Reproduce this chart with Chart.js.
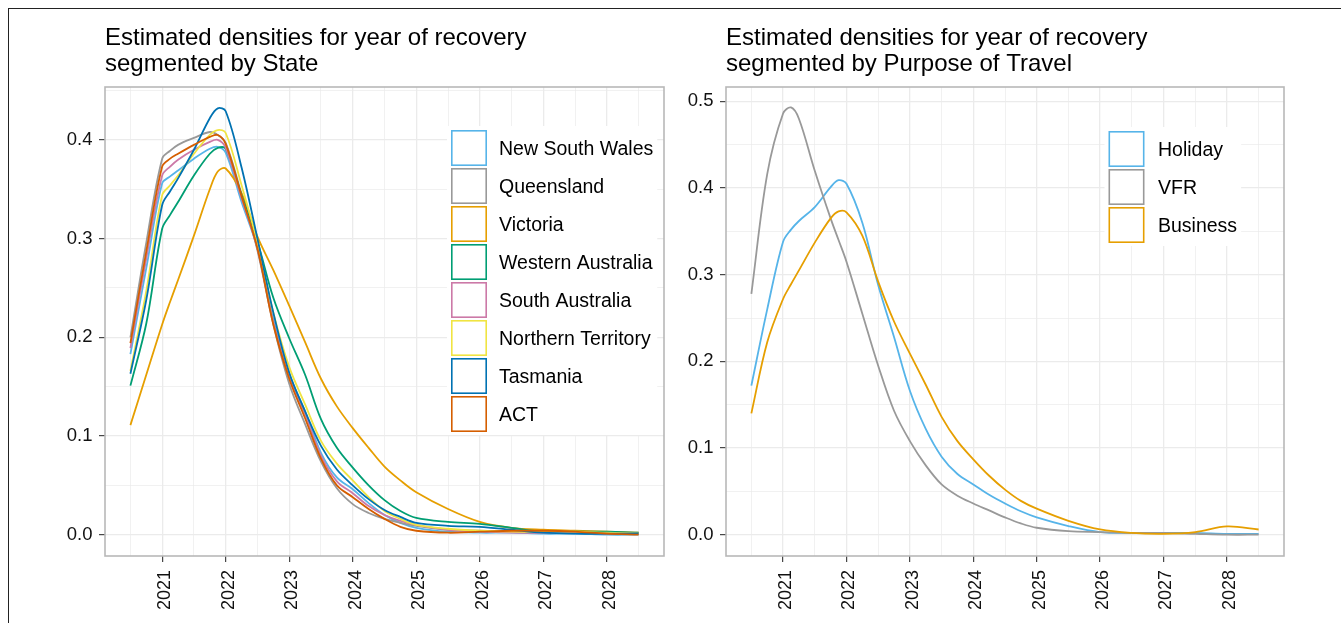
<!DOCTYPE html>
<html>
<head>
<meta charset="utf-8">
<script src="https://cdn.jsdelivr.net/npm/chart.js@4.4.1/dist/chart.umd.min.js"></script>
<style>
  html, body { margin: 0; padding: 0; background: #fff; }
  body { width: 1341px; height: 623px; position: relative; overflow: hidden; }
  .outer { position: absolute; left: 8px; top: 8px; width: 1400px; height: 700px; border: 1px solid #222; }
  canvas { position: absolute; top: 0; }
  #stateChart { left: 0; }
  #purposeChart { left: 670px; }
</style>
</head>
<body>
<div class="outer"></div>
<canvas id="stateChart" width="670" height="623"></canvas>
<canvas id="purposeChart" width="671" height="623"></canvas>
<script>
//-----------Data-----------
const years = [2020.5, 2020.75, 2021, 2021.125, 2021.25, 2021.5, 2021.75, 2021.875, 2022, 2022.25, 2022.5, 2022.75,
  2023, 2023.25, 2023.5, 2023.75, 2024, 2024.25, 2024.5, 2024.75, 2025, 2025.5,
  2026, 2026.5, 2027, 2027.5, 2028, 2028.5];

const yearTicks = [2021, 2022, 2023, 2024, 2025, 2026, 2027, 2028];
const xGrid = [2020.5, 2021, 2021.5, 2022, 2022.5, 2023, 2023.5, 2024, 2024.5, 2025, 2025.5,
  2026, 2026.5, 2027, 2027.5, 2028, 2028.5];
const yGridState = [0, 0.05, 0.1, 0.15, 0.2, 0.25, 0.3, 0.35, 0.4, 0.45];
const yGridPurpose = [0, 0.05, 0.1, 0.15, 0.2, 0.25, 0.3, 0.35, 0.4, 0.45, 0.5];

const stateNames = ['New South Wales', 'Queensland', 'Victoria', 'Western Australia',
  'South Australia', 'Northern Territory', 'Tasmania', 'ACT'];

const newSouthWales = [0.183, 0.270, 0.356, 0.363, 0.369, 0.381, 0.391, 0.393, 0.387, 0.337, 0.290, 0.218,
  0.163, 0.125, 0.083, 0.058, 0.046, 0.032, 0.020, 0.012, 0.007, 0.003,
  0.002, 0.002, 0.001, 0.001, 0.000, 0.000];
const queensland = [0.200, 0.296, 0.381, 0.389, 0.395, 0.402, 0.408, 0.405, 0.397, 0.345, 0.288, 0.213,
  0.153, 0.112, 0.074, 0.047, 0.031, 0.022, 0.016, 0.012, 0.009, 0.005,
  0.004, 0.003, 0.002, 0.002, 0.001, 0.001];
const victoria = [0.111, 0.162, 0.213, 0.236, 0.258, 0.303, 0.350, 0.368, 0.371, 0.346, 0.302, 0.268,
  0.232, 0.195, 0.158, 0.130, 0.108, 0.088, 0.069, 0.055, 0.043, 0.026,
  0.013, 0.007, 0.005, 0.004, 0.003, 0.002];
const westernAustralia = [0.151, 0.214, 0.310, 0.324, 0.337, 0.364, 0.386, 0.392, 0.391, 0.344, 0.297, 0.240,
  0.199, 0.162, 0.117, 0.088, 0.068, 0.050, 0.035, 0.024, 0.017, 0.013,
  0.011, 0.007, 0.003, 0.003, 0.003, 0.002];
const southAustralia = [0.189, 0.280, 0.364, 0.373, 0.380, 0.390, 0.398, 0.400, 0.392, 0.341, 0.290, 0.215,
  0.160, 0.122, 0.080, 0.054, 0.042, 0.029, 0.020, 0.014, 0.010, 0.005,
  0.003, 0.002, 0.002, 0.002, 0.001, 0.001];
const northernTerritory = [0.166, 0.247, 0.344, 0.354, 0.364, 0.386, 0.405, 0.410, 0.407, 0.354, 0.296, 0.225,
  0.170, 0.132, 0.095, 0.072, 0.055, 0.038, 0.024, 0.016, 0.010, 0.006,
  0.004, 0.003, 0.003, 0.003, 0.002, 0.001];
const tasmania = [0.163, 0.238, 0.334, 0.348, 0.361, 0.390, 0.422, 0.432, 0.429, 0.372, 0.300, 0.225,
  0.164, 0.125, 0.090, 0.066, 0.050, 0.036, 0.025, 0.018, 0.012, 0.009,
  0.008, 0.005, 0.002, 0.001, 0.001, 0.001];
const act = [0.194, 0.287, 0.373, 0.381, 0.386, 0.395, 0.403, 0.405, 0.396, 0.343, 0.290, 0.213,
  0.158, 0.118, 0.077, 0.050, 0.038, 0.026, 0.016, 0.008, 0.004, 0.002,
  0.003, 0.004, 0.004, 0.003, 0.001, 0.000];

const purposeNames = ['Holiday', 'VFR', 'Business'];

const holiday = [0.172, 0.260, 0.338, 0.352, 0.362, 0.378, 0.401, 0.409, 0.405, 0.360, 0.288, 0.228,
  0.166, 0.122, 0.090, 0.070, 0.058, 0.046, 0.036, 0.027, 0.020, 0.010,
  0.003, 0.002, 0.002, 0.002, 0.001, 0.001];
const vfr = [0.278, 0.416, 0.486, 0.493, 0.480, 0.420, 0.365, 0.340, 0.315, 0.255, 0.195, 0.143,
  0.108, 0.080, 0.058, 0.045, 0.036, 0.028, 0.020, 0.013, 0.008, 0.004,
  0.003, 0.002, 0.002, 0.001, 0.000, 0.000];
const business = [0.140, 0.222, 0.272, 0.289, 0.305, 0.337, 0.365, 0.373, 0.372, 0.345, 0.292, 0.246,
  0.209, 0.173, 0.136, 0.108, 0.087, 0.068, 0.052, 0.039, 0.030, 0.016,
  0.006, 0.002, 0.001, 0.003, 0.0095, 0.006];

//-----------Styling-----------
const FONT = "'Liberation Sans', Arial, Helvetica, sans-serif";
const stateColors = ['#56B4E9', '#999999', '#E69F00', '#009E73', '#CC79A7', '#F0E442', '#0072B2', '#D55E00'];
const purposeColors = ['#56B4E9', '#999999', '#E69F00'];

// frame, legend and title, drawn the way ggplot does them
const panelDecor = {
  id: 'panelDecor',
  afterDatasetsDraw(chart, args, opts) {
    const { ctx, chartArea: a } = chart;
    ctx.save();

    // legend (white background, outlined keys)
    ctx.font = `19.5px ${FONT}`;
    const textW = Math.max(...opts.names.map(n => ctx.measureText(n).width));
    const rows = opts.names.length;
    ctx.fillStyle = '#fff';
    ctx.fillRect(opts.legendX - 4, opts.legendY - 4, opts.textX - opts.legendX + textW + 8, rows * 38 + 5);
    opts.names.forEach((name, i) => {
      const top = opts.legendY + i * 38;
      ctx.strokeStyle = opts.colors[i];
      ctx.lineWidth = 1.6;
      ctx.strokeRect(opts.legendX + 0.8, top + 0.8, 34.4, 34.4);
      ctx.fillStyle = '#000';
      ctx.textAlign = 'left';
      ctx.textBaseline = 'middle';
      ctx.fillText(name, opts.textX, top + 19.5);
    });

    // panel border
    ctx.strokeStyle = '#B8B8B8';
    ctx.lineWidth = 1.6;
    ctx.strokeRect(a.left, a.top, a.right - a.left, a.bottom - a.top);

    // title
    ctx.fillStyle = '#000';
    ctx.font = `24px ${FONT}`;
    ctx.textAlign = 'left';
    ctx.textBaseline = 'alphabetic';
    opts.title.forEach((line, i) => ctx.fillText(line, a.left, 45 + i * 26));
    ctx.restore();
  }
};

const isMajorX = v => yearTicks.includes(v);
const isMajorY = v => Math.round(v * 100) % 10 === 0;

function makeChart(canvasId, names, colors, series, yMin, yMax, yGrid, yAxisWidth, padding, title, legend) {
  const ctx = document.getElementById(canvasId).getContext('2d');
  return new Chart(ctx, {
    type: 'line',
    data: {
      datasets: names.map((name, i) => ({
        label: name,
        data: years.map((x, j) => ({ x: x, y: series[i][j] })),
        borderColor: colors[i],
        borderWidth: 1.8,
        pointRadius: 0,
        fill: false,
        tension: 0.35,
        order: names.length - i
      }))
    },
    options: {
      responsive: false,
      animation: false,
      events: [],
      layout: { padding: padding },
      scales: {
        x: {
          type: 'linear',
          min: 2020.1,
          max: 2028.9,
          afterBuildTicks: s => { s.ticks = xGrid.map(v => ({ value: v })); },
          afterFit: s => { s.height = 67; },
          border: { display: false },
          grid: {
            color: '#EBEBEB',
            lineWidth: c => (c.tick && isMajorX(c.tick.value)) ? 1.3 : 0.7,
            tickColor: c => (c.tick && isMajorX(c.tick.value)) ? '#333' : 'rgba(0,0,0,0)',
            tickWidth: 1.1,
            tickLength: 6
          },
          ticks: {
            autoSkip: false,
            minRotation: 90,
            maxRotation: 90,
            padding: 8,
            labelOffset: 3,
            color: '#111',
            font: { family: FONT, size: 18 },
            callback: v => isMajorX(v) ? String(v) : ''
          }
        },
        y: {
          type: 'linear',
          min: yMin,
          max: yMax,
          afterBuildTicks: s => { s.ticks = yGrid.map(v => ({ value: v })); },
          afterFit: s => { s.width = yAxisWidth; },
          border: { display: false },
          grid: {
            color: '#EBEBEB',
            lineWidth: c => (c.tick && isMajorY(c.tick.value)) ? 1.3 : 0.7,
            tickColor: c => (c.tick && isMajorY(c.tick.value)) ? '#333' : 'rgba(0,0,0,0)',
            tickWidth: 1.1,
            tickLength: 6
          },
          ticks: {
            padding: 6.5,
            color: '#111',
            font: { family: FONT, size: 18.5 },
            callback: v => isMajorY(v) ? v.toFixed(1) : ''
          }
        }
      },
      plugins: {
        legend: { display: false },
        tooltip: { enabled: false },
        panelDecor: Object.assign({ names: names, colors: colors, title: title }, legend)
      }
    },
    plugins: [panelDecor]
  });
}

makeChart('stateChart', stateNames, stateColors,
  [newSouthWales, queensland, victoria, westernAustralia, southAustralia, northernTerritory, tasmania, act],
  -0.0216, 0.4536, yGridState, 105,
  { left: 0, top: 87, right: 6, bottom: 0 },
  ['Estimated densities for year of recovery', 'segmented by State'],
  { legendX: 451, legendY: 130, textX: 499 });

makeChart('purposeChart', purposeNames, purposeColors,
  [holiday, vfr, business],
  -0.0246, 0.5166, yGridPurpose, 56,
  { left: 0, top: 87, right: 57, bottom: 0 },
  ['Estimated densities for year of recovery', 'segmented by Purpose of Travel'],
  { legendX: 438.5, legendY: 131, textX: 488 });
</script>
</body>
</html>
